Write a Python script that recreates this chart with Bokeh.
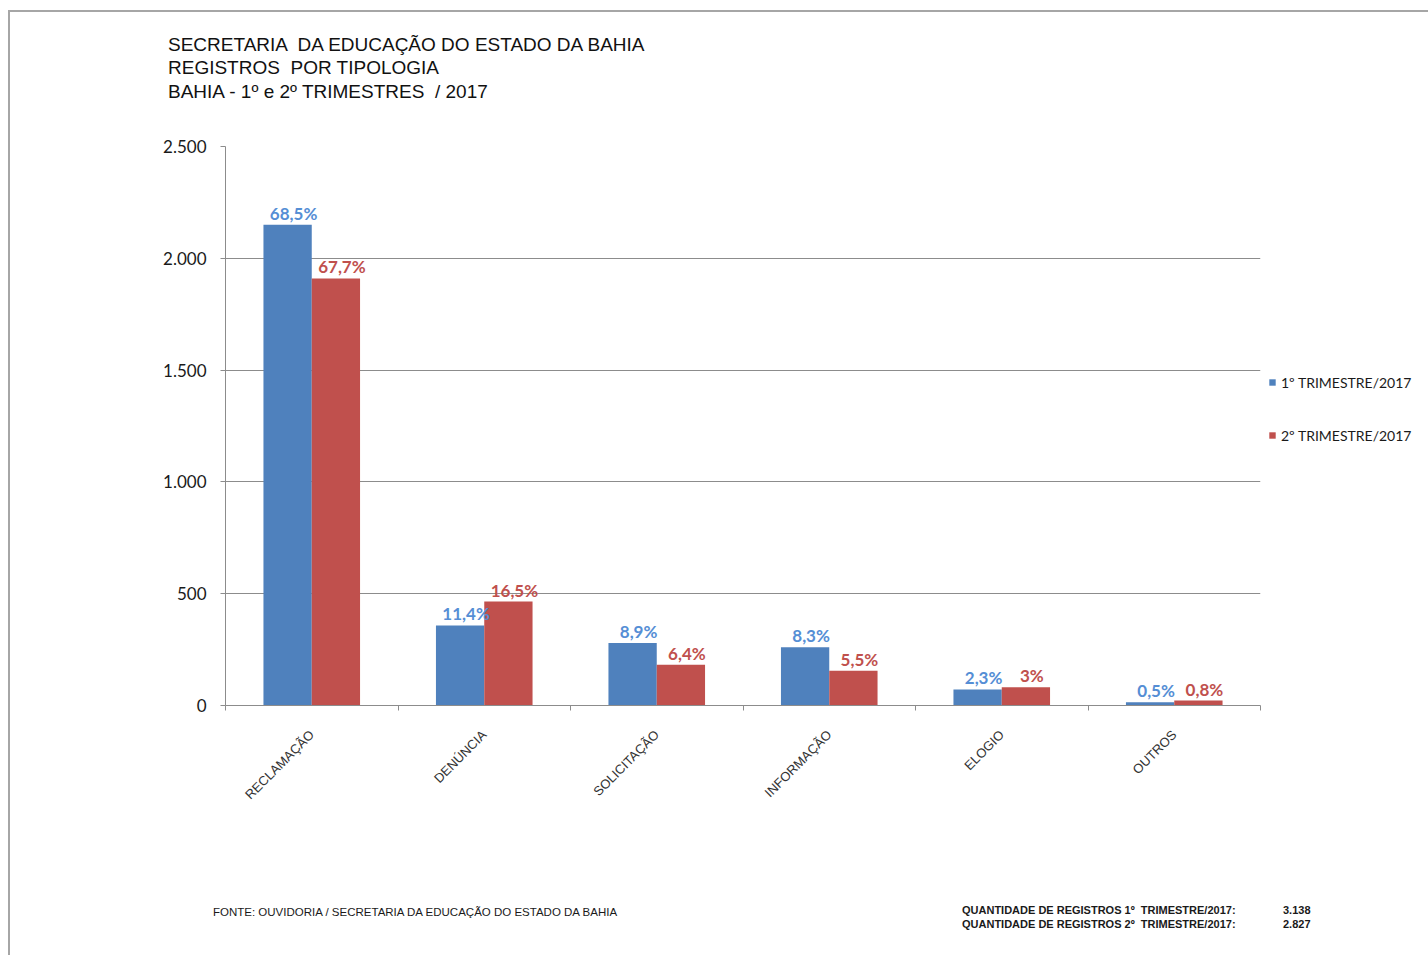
import math
from bokeh.plotting import figure
from bokeh.models import (ColumnDataSource, FixedTicker, Legend, LegendItem, Div)
from bokeh.layouts import column
from bokeh.core.properties import value
from bokeh.embed import file_html
from bokeh.resources import INLINE

# ---- data ----
categories = ["RECLAMAÇÃO", "DENÚNCIA", "SOLICITAÇÃO", "INFORMAÇÃO", "ELOGIO", "OUTROS"]
tri1 = [2150, 358, 279, 260, 72, 15]
tri2 = [1910, 465, 182, 155, 82, 22]
pct1 = ["68,5%", "11,4%", "8,9%", "8,3%", "2,3%", "0,5%"]
pct2 = ["67,7%", "16,5%", "6,4%", "5,5%", "3%", "0,8%"]
series_names = ["1º TRIMESTRE/2017", "2º TRIMESTRE/2017"]
y_ticks = [0, 500, 1000, 1500, 2000, 2500]
y_tick_labels = ["0", "500", "1.000", "1.500", "2.000", "2.500"]
title_lines = ["SECRETARIA  DA EDUCAÇÃO DO ESTADO DA BAHIA",
               "REGISTROS  POR TIPOLOGIA",
               "BAHIA - 1º e 2º TRIMESTRES  / 2017"]
source_note = "FONTE: OUVIDORIA / SECRETARIA DA EDUCAÇÃO DO ESTADO DA BAHIA"
totals_labels = ["QUANTIDADE DE REGISTROS 1º  TRIMESTRE/2017:",
                 "QUANTIDADE DE REGISTROS 2º  TRIMESTRE/2017:"]
totals_values = ["3.138", "2.827"]

BLUE = "#4F81BD"
RED = "#C0504D"
BLUE_TXT = "#558ED5"
RED_TXT = "#C0504D"

n = len(categories)
centers = [i + 0.5 for i in range(n)]
bw = 0.28
x1 = [c - bw / 2 for c in centers]
x2 = [c + bw / 2 for c in centers]

src1 = ColumnDataSource(dict(x=x1, top=tri1, lab=pct1))
src2 = ColumnDataSource(dict(x=x2, top=tri2, lab=pct2))

p = figure(frame_width=1035, frame_height=559, output_backend="svg", toolbar_location=None,
           x_range=(0, n), y_range=(0, 2500),
           min_border_left=215, min_border_right=150, min_border_top=20, min_border_bottom=150)
p.title = None
p.outline_line_color = None
p.background_fill_color = "white"
p.border_fill_color = "white"

r1 = p.vbar(x="x", top="top", width=bw, source=src1, fill_color=BLUE, line_color=None)
r2 = p.vbar(x="x", top="top", width=bw, source=src2, fill_color=RED, line_color=None)

p.text(x="x", y="top", text="lab", source=src1, text_color=BLUE_TXT,
       text_font=value("Lato"), text_font_style="bold", text_font_size="17px",
       text_align="center", text_baseline="bottom", y_offset=-1, x_offset=6)
p.text(x="x", y="top", text="lab", source=src2, text_color=RED_TXT,
       text_font=value("Lato"), text_font_style="bold", text_font_size="17px",
       text_align="center", text_baseline="bottom", y_offset=-1, x_offset=6)

# grid
p.xgrid.grid_line_color = None
p.ygrid.grid_line_color = "#8c8c8c"
p.ygrid.ticker = FixedTicker(ticks=y_ticks)

# y axis
p.yaxis.ticker = FixedTicker(ticks=y_ticks)
p.yaxis.major_label_overrides = {t: l for t, l in zip(y_ticks, y_tick_labels)}
p.yaxis.axis_line_color = "#8c8c8c"
p.yaxis.major_tick_line_color = "#8c8c8c"
p.yaxis.major_tick_out = 5
p.yaxis.major_tick_in = 0
p.yaxis.minor_tick_line_color = None
p.yaxis.major_label_text_font = "Lato"
p.yaxis.major_label_text_font_size = "17px"
p.yaxis.major_label_text_color = "#1a1a1a"
p.yaxis.major_label_standoff = 14

# x axis
p.xaxis.ticker = FixedTicker(ticks=centers, minor_ticks=list(range(n + 1)))
p.xaxis.major_label_overrides = {c: cat for c, cat in zip(centers, categories)}
p.xaxis.major_label_orientation = math.pi / 4
p.xaxis.axis_line_color = "#8c8c8c"
p.xaxis.major_tick_line_color = None
p.xaxis.minor_tick_line_color = "#8c8c8c"
p.xaxis.minor_tick_out = 5
p.xaxis.minor_tick_in = 0
p.xaxis.major_label_text_font = "Liberation Sans"
p.xaxis.major_label_text_font_size = "13px"
p.xaxis.major_label_text_color = "#333333"
p.xaxis.major_label_standoff = 21

# legend
legend = Legend(items=[LegendItem(label=series_names[0], renderers=[r1]),
                       LegendItem(label=series_names[1], renderers=[r2])],
                location=(8, 260), orientation="vertical",
                glyph_width=8, glyph_height=8, label_height=20, spacing=33,
                padding=0, margin=0, label_standoff=5,
                label_text_font="Lato", label_text_font_size="14px",
                label_text_color="#1a1a1a",
                border_line_color=None, background_fill_alpha=0)
p.add_layout(legend, "right")

# title block
tspan = ("position:absolute;white-space:pre;font-family:'Liberation Sans';"
         "color:#111111;font-size:19px;line-height:22px;left:153px;")
title_html = (
    '<div style="position:relative;width:1400px;height:104px;">'
    + "".join(f'<span style="{tspan}top:{tp}px;">{t}</span>'
              for t, tp in zip(title_lines, [17, 40, 64]))
    + '</div>'
)
header = Div(text=title_html, width=1400, height=104)

# footer block
span = ("position:absolute;white-space:pre;font-family:'Liberation Sans';"
        "color:#1a1a1a;line-height:12px;")
footer_html = (
    '<div style="position:relative;width:1400px;height:90px;">'
    f'<span style="{span}left:198px;top:46px;font-size:11.5px;">{source_note}</span>'
    f'<span style="{span}left:947px;top:44px;font-size:11px;font-weight:bold;">{totals_labels[0]}</span>'
    f'<span style="{span}left:1268px;top:44px;font-size:11px;font-weight:bold;">{totals_values[0]}</span>'
    f'<span style="{span}left:947px;top:58px;font-size:11px;font-weight:bold;">{totals_labels[1]}</span>'
    f'<span style="{span}left:1268px;top:58px;font-size:11px;font-weight:bold;">{totals_values[1]}</span>'
    '</div>'
)
footer = Div(text=footer_html, width=1400, height=90)

layout = column(header, p, footer, spacing=0,
                styles={"border-top": "2px solid #a6a6a6", "border-left": "2px solid #a6a6a6",
                        "margin-left": "8px", "margin-top": "10px"})

open("out.html", "w").write(file_html(layout, INLINE))
